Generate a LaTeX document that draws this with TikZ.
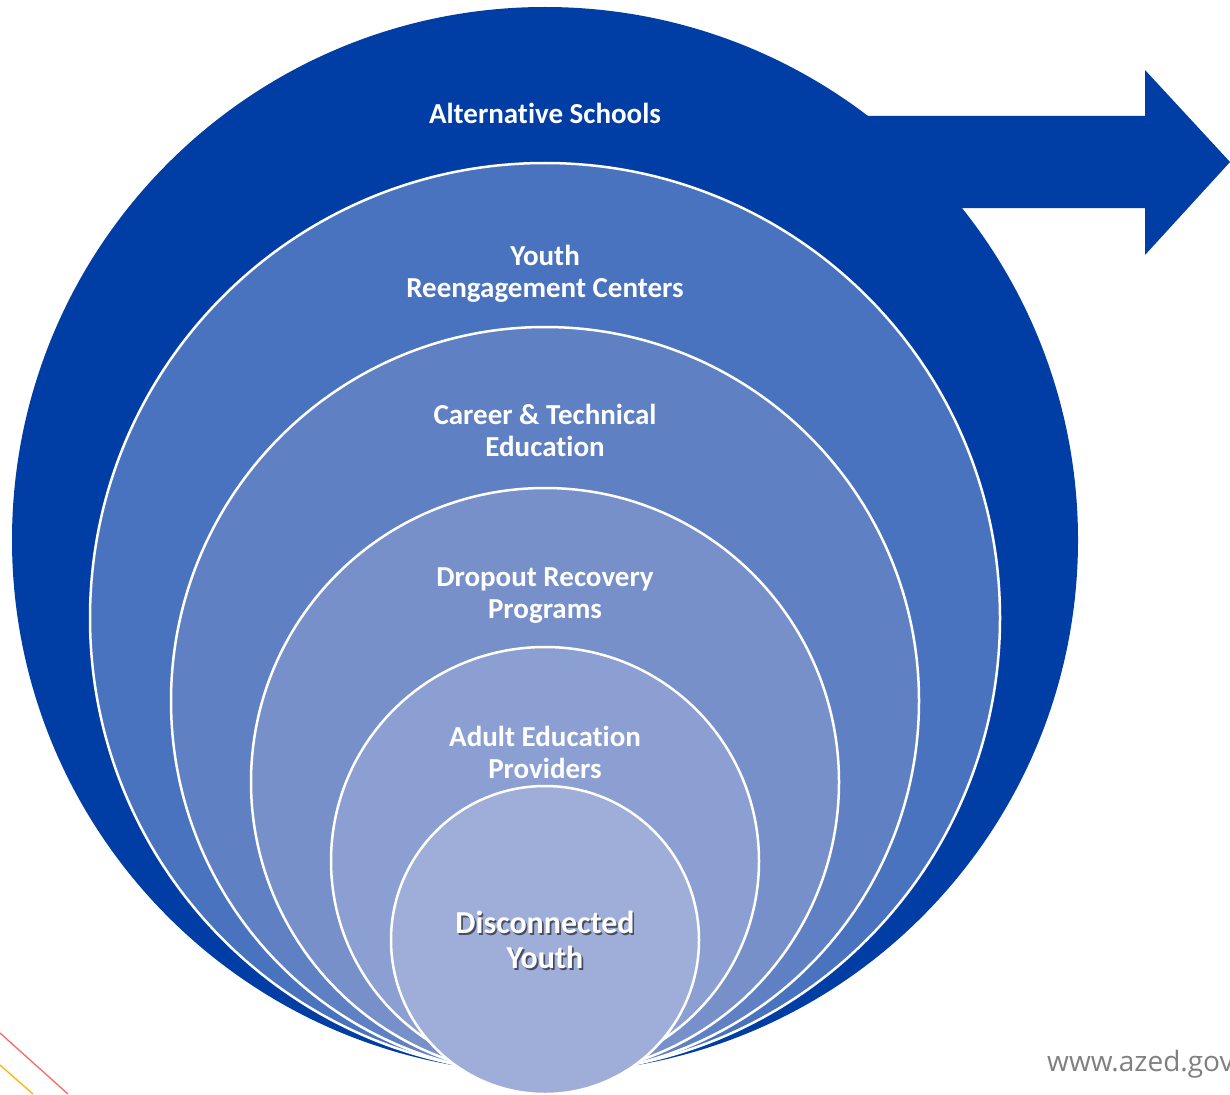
\documentclass[tikz,border=0pt]{standalone}
\usepackage{fontspec}
\setmainfont[Ligatures=NoCommon]{Carlito}
\newfontfamily\urlfont{Open Sans}
\definecolor{cA}{RGB}{0,61,165}
\definecolor{cB}{RGB}{74,115,191}
\definecolor{cC}{RGB}{96,128,196}
\definecolor{cD}{RGB}{119,144,202}
\definecolor{cE}{RGB}{139,159,210}
\definecolor{cF}{RGB}{158,174,216}
\definecolor{urlgray}{RGB}{128,128,128}
\colorlet{shadowcol}{cF!45!black}
\newcommand\shtxt[1]{\leavevmode\rlap{\kern1.6pt\raisebox{-1.6pt}{\textcolor{shadowcol}{#1}}}#1}
\tikzset{
  ring/.style={draw=white, line width=2.5pt},
  lbl/.style={text=white, font=\bfseries\fontsize{29}{32}\selectfont, align=center, inner sep=0pt},
  biglbl/.style={text=white, font=\bfseries\fontsize{32}{35}\selectfont, align=center, inner sep=0pt}
}
\begin{document}
\begin{tikzpicture}[x=1pt,y=-1pt]
\useasboundingbox (0,0) rectangle (1230,1094);
\clip (0,0) rectangle (1230,1094);
% arrow behind outer circle
\fill[cA] (700,116) -- (1145,116) -- (1145,70) -- (1230,162) -- (1145,255) -- (1145,208) -- (700,208) -- cycle;
% nested circles
\fill[cA] (545,540) circle[radius=533];
\draw[ring, fill=cB] (545,618) circle[radius=455];
\draw[ring, fill=cC] (545,701) circle[radius=374];
\draw[ring, fill=cD] (545,782) circle[radius=294];
\draw[ring, fill=cE] (545,861) circle[radius=214];
\draw[ring, fill=cF] (545,940) circle[radius=154];
% labels
\node[lbl] (alt) at (545,113) {Alternative Schools};
\node[lbl] (yrc) at (545,274) {Youth\\Reengagement Centers};
\node[lbl] (cte) at (545,430) {Career \& Technical\\Education};
\node[lbl] (drp) at (545,596) {Dropout Recovery\\Programs};
\node[lbl] (aep) at (545,752) {Adult Education\\Providers};
\node[biglbl] (dy) at (545,941) {\shtxt{Disconnected}\\\shtxt{Youth}};
% decorative lines bottom-left
\draw[red!60, line width=1.3pt] (0,1033) -- (68,1094);
\draw[orange!60!yellow, line width=1.3pt] (0,1065) -- (33,1094);
% url
\node[anchor=base west, text=urlgray, font=\urlfont\fontsize{28}{32}\selectfont, inner sep=0pt] (url) at (1047,1071) {www.azed.gov};
\end{tikzpicture}
\end{document}
